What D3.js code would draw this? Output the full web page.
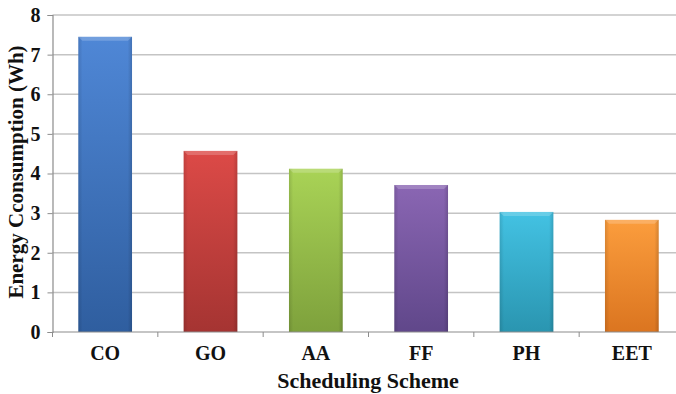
<!DOCTYPE html>
<html><head><meta charset="utf-8">
<script src="https://cdn.jsdelivr.net/npm/d3@7"></script>
<style>body{margin:0;background:#fff}svg{display:block}text{font-family:"Liberation Serif","Times New Roman",serif;font-weight:bold;fill:#111}</style>
</head><body><svg id="c" width="676" height="394"></svg>
<script>
const categories = ["CO","GO","AA","FF","PH","EET"];
const values = [7.45, 4.57, 4.12, 3.71, 3.03, 2.83];
const yTicks = [0,1,2,3,4,5,6,7,8];
const topColors = ["#4f87d6","#dc4a47","#a9d356","#8a66b3","#43c2e3","#fb9d3d"];
const bottomColors = ["#2f5e9f","#a53432","#7ea13c","#60478a","#2a95b0","#db7520"];

const svg = d3.select("#c");
const x = d3.scaleBand().domain(categories).range([52.5, 684.5]).paddingInner(0.49).paddingOuter(0.245);
const y = d3.scaleLinear().domain([0,8]).range([332,15]);

const defs = svg.append("defs");
categories.forEach((c,i)=>{
  const g = defs.append("linearGradient").attr("id","g"+i).attr("x1",0).attr("y1",0).attr("x2",0).attr("y2",1);
  g.append("stop").attr("offset","0%").attr("stop-color",topColors[i]);
  g.append("stop").attr("offset","100%").attr("stop-color",bottomColors[i]);
  const h = defs.append("linearGradient").attr("id","h"+i).attr("x1",0).attr("y1",0).attr("x2",1).attr("y2",0);
  h.append("stop").attr("offset","0%").attr("stop-color","#000").attr("stop-opacity",0.12);
  h.append("stop").attr("offset","8%").attr("stop-color","#000").attr("stop-opacity",0);
  h.append("stop").attr("offset","92%").attr("stop-color","#000").attr("stop-opacity",0);
  h.append("stop").attr("offset","100%").attr("stop-color","#000").attr("stop-opacity",0.15);
});

svg.append("g").selectAll("line").data(yTicks.filter(d=>d>0)).join("line")
  .attr("x1",52.5).attr("x2",676).attr("y1",d=>y(d)).attr("y2",d=>y(d))
  .attr("stroke","#c4c4c4").attr("stroke-width",1.5);

const ya = svg.append("g").attr("transform","translate(52.5,0)")
  .call(d3.axisLeft(y).tickValues(yTicks).tickSize(5).tickPadding(7).tickFormat(d3.format("d")));
ya.select(".domain").attr("stroke","#8c8c8c").attr("stroke-width",1.2);
ya.selectAll(".tick line").attr("stroke","#8c8c8c");
ya.selectAll(".tick text").attr("font-size",20).attr("font-family","Liberation Serif").attr("font-weight","bold").attr("fill","#111");

const bars = svg.append("g").selectAll("g").data(categories).join("g");
bars.append("rect").attr("x",d=>x(d)).attr("width",x.bandwidth())
  .attr("y",(d,i)=>y(values[i])).attr("height",(d,i)=>y(0)-y(values[i]))
  .attr("fill",(d,i)=>"url(#g"+i+")");
bars.append("rect").attr("x",d=>x(d)).attr("width",x.bandwidth())
  .attr("y",(d,i)=>y(values[i])).attr("height",(d,i)=>y(0)-y(values[i]))
  .attr("fill",(d,i)=>"url(#h"+i+")");
bars.append("path").attr("d",(d,i)=>{
  const x0=x(d), x1=x(d)+x.bandwidth(), t=y(values[i]);
  return `M${x0},${t}L${x1},${t}L${x1-4},${t+4}L${x0+4},${t+4}Z`;
}).attr("fill","#fff").attr("fill-opacity",0.2);

const xa = svg.append("g").attr("transform","translate(0,332)");
xa.append("line").attr("x1",52.5).attr("x2",676).attr("stroke","#8c8c8c").attr("stroke-width",1.2);
const step = x.step();
xa.selectAll("line.t").data(d3.range(categories.length+1)).join("line").attr("class","t")
  .attr("x1",i=>52.5+i*step).attr("x2",i=>52.5+i*step).attr("y1",0).attr("y2",5).attr("stroke","#8c8c8c");
xa.selectAll("text").data(categories).join("text")
  .attr("x",d=>x(d)+x.bandwidth()/2).attr("y",28).attr("text-anchor","middle").attr("font-size",20).text(d=>d);

svg.append("text").attr("x",368).attr("y",388).attr("text-anchor","middle").attr("font-size",22).text("Scheduling Scheme");
svg.append("text").attr("transform","translate(23,172) rotate(-90)").attr("text-anchor","middle").attr("font-size",21).text("Energy Cconsumption (Wh)");
</script></body></html>
